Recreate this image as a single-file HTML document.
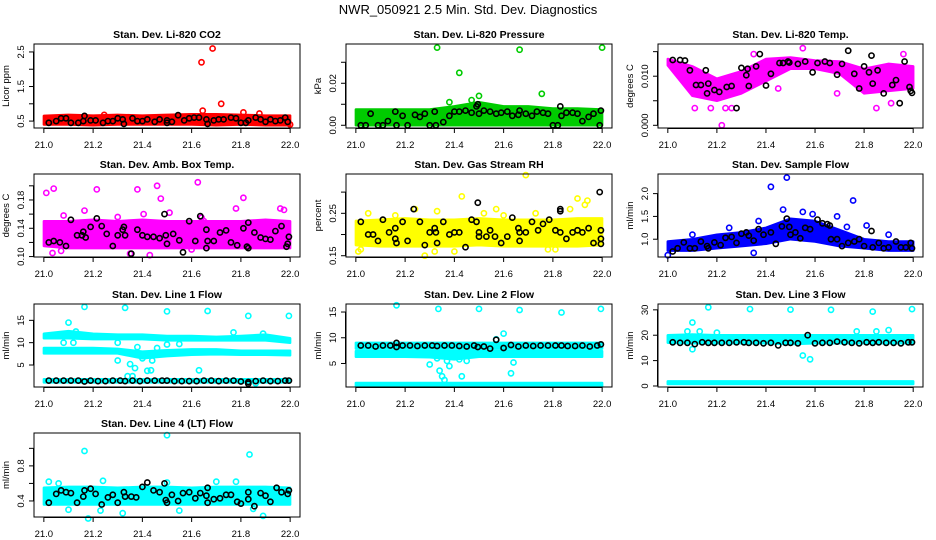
<!DOCTYPE html>
<html><head><meta charset="utf-8"><title>NWR_050921 Diagnostics</title>
<style>
html,body{margin:0;padding:0;background:#fff;}
svg{display:block;font-family:"Liberation Sans",sans-serif;}
</style></head>
<body>
<svg id="chart" width="936" height="540" viewBox="0 0 936 540">
<text x="468" y="14" text-anchor="middle" font-size="13">NWR_050921  2.5 Min. Std. Dev. Diagnostics</text>
</svg>
<script>
// ---------- shared x categories ----------
const xGrid = [21.0,21.1,21.2,21.3,21.4,21.5,21.6,21.7,21.8,21.9,22.0];
const xTicks = [21.0,21.2,21.4,21.6,21.8,22.0];
const xTickLabels = ["21.0","21.2","21.4","21.6","21.8","22.0"];

// ---------- P1 CO2 ----------
const p1Lo = [0.4,0.4,0.38,0.4,0.4,0.4,0.4,0.38,0.4,0.38,0.38];
const p1Hi = [0.65,0.68,0.66,0.68,0.66,0.68,0.7,0.7,0.68,0.66,0.66];
const p1Out = [[21.64,2.2],[21.685,2.6],[21.72,1.0],[21.645,0.8],[21.81,0.75],[21.875,0.72],[21.245,0.68],[22.0,0.4]];
const p1Black = [[21.02,0.45],[21.05,0.5],[21.07,0.58],[21.09,0.58],[21.11,0.45],[21.14,0.45],[21.16,0.5],[21.165,0.65],[21.19,0.52],[21.21,0.52],[21.24,0.45],[21.26,0.5],[21.28,0.5],[21.3,0.58],[21.32,0.55],[21.325,0.42],[21.36,0.58],[21.38,0.5],[21.4,0.5],[21.42,0.55],[21.45,0.48],[21.47,0.55],[21.5,0.52],[21.5,0.45],[21.52,0.48],[21.545,0.67],[21.57,0.52],[21.59,0.58],[21.61,0.6],[21.63,0.6],[21.66,0.55],[21.665,0.42],[21.69,0.52],[21.71,0.55],[21.73,0.55],[21.76,0.6],[21.78,0.58],[21.8,0.45],[21.82,0.45],[21.83,0.52],[21.86,0.6],[21.88,0.55],[21.9,0.48],[21.92,0.55],[21.94,0.5],[21.96,0.52],[21.98,0.6],[21.99,0.48]];
const p1YTicks = [0.5,1.0,1.5,2.0,2.5];
const p1YLabels = ["0.5","","1.5","","2.5"];

// ---------- P2 Pressure ----------
const p2Lo = [0,0,0,0,0,0,0,0,0,0,0];
const p2Hi = [0.0075,0.0075,0.0075,0.0075,0.009,0.011,0.009,0.009,0.008,0.008,0.0075];
const p2Out = [[21.33,0.037],[21.42,0.025],[21.665,0.036],[21.755,0.015],[21.5,0.014],[22.0,0.037],[21.38,0.011],[21.47,0.012]];
const p2Black = [[21.02,0],[21.04,0],[21.06,0.0055],[21.09,0],[21.11,0],[21.13,0.002],[21.16,0.0065],[21.165,0],[21.19,0.0045],[21.21,0],[21.24,0.005],[21.26,0.004],[21.28,0.0055],[21.3,0],[21.32,0.0065],[21.325,0],[21.355,0.0015],[21.38,0.0045],[21.4,0.0065],[21.42,0.0065],[21.445,0.007],[21.47,0.006],[21.49,0.009],[21.495,0.01],[21.5,0.0055],[21.52,0.007],[21.545,0.0065],[21.57,0.0055],[21.59,0.006],[21.615,0.0065],[21.635,0.0045],[21.66,0.005],[21.665,0.007],[21.69,0.0055],[21.715,0.0045],[21.735,0.0065],[21.76,0.006],[21.78,0.0055],[21.8,0],[21.82,0],[21.83,0.009],[21.835,0.0045],[21.855,0.006],[21.88,0.006],[21.9,0.0055],[21.92,0.002],[21.945,0.004],[21.965,0.0055],[21.99,0],[21.995,0.007]];
const p2YTicks = [0,0.01,0.02,0.03];
const p2YLabels = ["0.00","","0.02",""];

// ---------- P3 Li-820 Temp ----------
const p3Lo = [0.0122,0.006,0.005,0.0065,0.009,0.0115,0.0115,0.0105,0.0065,0.007,0.0075];
const p3Hi = [0.0135,0.012,0.0095,0.011,0.0135,0.0138,0.0132,0.013,0.0115,0.0125,0.012];
const p3Out = [[21.11,0.0035],[21.175,0.0035],[21.22,0.0],[21.235,0.0035],[21.26,0.0035],[21.55,0.0157],[21.85,0.0035],[21.45,0.0075],[21.69,0.0065],[21.35,0.0145],[21.96,0.0145],[21.18,0.006],[21.91,0.0045]];
const p3Black = [[21.02,0.0133],[21.05,0.0133],[21.07,0.0132],[21.09,0.0112],[21.115,0.0082],[21.135,0.0082],[21.155,0.0112],[21.16,0.0065],[21.165,0.0085],[21.19,0.0072],[21.21,0.0068],[21.24,0.0078],[21.26,0.008],[21.28,0.0035],[21.3,0.0117],[21.32,0.0102],[21.325,0.0115],[21.33,0.008],[21.36,0.012],[21.375,0.0145],[21.4,0.0081],[21.42,0.0105],[21.455,0.0127],[21.47,0.0127],[21.49,0.013],[21.495,0.0128],[21.53,0.0125],[21.56,0.013],[21.59,0.0108],[21.61,0.0127],[21.64,0.013],[21.66,0.0127],[21.69,0.0103],[21.71,0.0125],[21.735,0.0152],[21.76,0.0105],[21.78,0.0075],[21.8,0.012],[21.82,0.0108],[21.83,0.0142],[21.835,0.0085],[21.855,0.0112],[21.88,0.0065],[21.915,0.0082],[21.93,0.0092],[21.945,0.0045],[21.965,0.013],[21.985,0.0078],[21.99,0.007],[21.995,0.0066]];
const p3YTicks = [0,0.005,0.01,0.015];
const p3YLabels = ["0.000","","0.010",""];

// ---------- P4 Amb Box Temp ----------
const p4Lo = [0.115,0.112,0.112,0.112,0.112,0.112,0.112,0.112,0.112,0.112,0.112];
const p4Hi = [0.15,0.15,0.152,0.15,0.152,0.15,0.15,0.15,0.15,0.152,0.15];
const p4Out = [[21.01,0.19],[21.04,0.196],[21.035,0.105],[21.07,0.108],[21.165,0.165],[21.215,0.195],[21.38,0.195],[21.405,0.16],[21.46,0.2],[21.475,0.182],[21.51,0.162],[21.625,0.205],[21.81,0.183],[21.78,0.168],[21.96,0.168],[21.975,0.166],[21.43,0.102],[21.35,0.104],[21.64,0.155],[21.65,0.15],[21.08,0.158],[21.3,0.156],[21.6,0.11]];
const p4Black = [[21.02,0.12],[21.04,0.122],[21.065,0.12],[21.09,0.115],[21.11,0.152],[21.135,0.13],[21.155,0.13],[21.16,0.135],[21.17,0.127],[21.19,0.142],[21.215,0.154],[21.235,0.143],[21.255,0.132],[21.28,0.115],[21.3,0.13],[21.32,0.138],[21.325,0.142],[21.33,0.13],[21.355,0.104],[21.38,0.138],[21.4,0.13],[21.42,0.128],[21.445,0.128],[21.47,0.126],[21.49,0.16],[21.495,0.13],[21.5,0.118],[21.525,0.132],[21.55,0.123],[21.565,0.106],[21.59,0.15],[21.615,0.122],[21.635,0.157],[21.66,0.138],[21.66,0.112],[21.665,0.122],[21.69,0.122],[21.715,0.134],[21.74,0.137],[21.76,0.12],[21.785,0.116],[21.81,0.14],[21.83,0.148],[21.825,0.114],[21.83,0.112],[21.855,0.134],[21.88,0.127],[21.9,0.125],[21.92,0.124],[21.94,0.136],[21.965,0.143],[21.985,0.114],[21.99,0.118],[21.995,0.128]];
const p4YTicks = [0.10,0.12,0.14,0.16,0.18,0.20];
const p4YLabels = ["0.10","","0.14","","0.18",""];

// ---------- P5 Gas Stream RH ----------
const p5Lo = [0.175,0.172,0.172,0.172,0.172,0.175,0.172,0.172,0.172,0.172,0.175];
const p5Hi = [0.232,0.235,0.238,0.235,0.235,0.238,0.235,0.235,0.235,0.238,0.238];
const p5Out = [[21.01,0.16],[21.24,0.26],[21.28,0.15],[21.43,0.29],[21.69,0.34],[21.9,0.285],[21.94,0.28],[21.93,0.27],[21.87,0.26],[21.52,0.25],[21.57,0.26],[21.4,0.16],[21.78,0.165],[21.81,0.165],[21.02,0.165],[21.05,0.25],[21.16,0.245],[21.33,0.255],[21.6,0.245],[21.73,0.25],[21.32,0.16]];
const p5Black = [[21.02,0.23],[21.05,0.2],[21.07,0.2],[21.09,0.185],[21.11,0.235],[21.135,0.205],[21.16,0.215],[21.16,0.19],[21.165,0.18],[21.19,0.23],[21.21,0.185],[21.235,0.26],[21.26,0.23],[21.28,0.175],[21.3,0.205],[21.32,0.215],[21.325,0.205],[21.33,0.18],[21.355,0.23],[21.38,0.2],[21.4,0.205],[21.42,0.205],[21.445,0.17],[21.47,0.235],[21.49,0.23],[21.495,0.275],[21.5,0.205],[21.5,0.195],[21.53,0.195],[21.545,0.21],[21.565,0.195],[21.59,0.18],[21.615,0.195],[21.635,0.24],[21.66,0.215],[21.665,0.205],[21.665,0.185],[21.69,0.205],[21.715,0.23],[21.74,0.21],[21.76,0.225],[21.785,0.235],[21.81,0.21],[21.83,0.205],[21.83,0.255],[21.83,0.26],[21.855,0.19],[21.88,0.205],[21.9,0.21],[21.92,0.205],[21.945,0.215],[21.965,0.18],[21.99,0.3],[21.995,0.21],[21.995,0.19],[21.995,0.178]];
const p5YTicks = [0.15,0.20,0.25,0.30];
const p5YLabels = ["0.15","","0.25",""];

// ---------- P6 Sample Flow ----------
const p6Lo = [0.75,0.75,0.8,0.85,0.9,1.0,0.95,0.85,0.8,0.75,0.75];
const p6Hi = [0.95,1.0,1.1,1.15,1.25,1.45,1.4,1.2,1.0,0.95,0.95];
const p6Out = [[21.0,0.65],[21.42,2.15],[21.485,2.35],[21.755,1.85],[21.37,1.4],[21.47,1.65],[21.69,1.5],[21.9,1.1],[21.81,1.3],[21.35,0.7],[21.1,1.1],[21.25,1.25],[21.55,1.6],[21.59,1.55],[21.73,1.27]];
const p6Black = [[21.02,0.73],[21.04,0.8],[21.065,0.93],[21.09,0.8],[21.11,0.8],[21.135,0.95],[21.16,0.85],[21.165,0.8],[21.19,0.93],[21.215,0.87],[21.235,1.03],[21.26,1.05],[21.28,0.92],[21.3,1.12],[21.32,1.15],[21.33,1.08],[21.35,0.97],[21.37,1.22],[21.39,1.1],[21.42,1.15],[21.44,0.9],[21.465,1.28],[21.485,1.45],[21.495,1.27],[21.5,1.1],[21.52,1.15],[21.54,1.02],[21.56,1.25],[21.58,1.22],[21.61,1.43],[21.63,1.35],[21.65,1.33],[21.66,1.3],[21.665,1.0],[21.69,1.0],[21.71,0.85],[21.735,0.92],[21.76,0.95],[21.78,1.0],[21.8,0.85],[21.83,1.18],[21.835,0.82],[21.86,0.92],[21.88,0.8],[21.9,0.82],[21.93,0.95],[21.95,0.82],[21.97,0.82],[21.99,0.92],[21.995,0.8]];
const p6YTicks = [1.0,1.5,2.0];
const p6YLabels = ["1.0","1.5","2.0"];

// ---------- P7 Line 1 Flow ----------
const p7UpLo = [11,11,10.8,10.8,10.8,10.5,10.5,10.5,10.5,10.5,10];
const p7UpHi = [12,12.6,12,11.8,11.8,11.5,11.5,11.3,11.5,11.8,11];
const p7MidLo = [7.6,7.6,7.6,7.6,6.5,7,7.3,7.4,7.3,7.3,7.2];
const p7MidHi = [8.8,8.8,8.8,8.6,8,8.3,8.5,8.5,8.2,8.2,8.2];
const p7LowLo = [1.1,1.1,1.1,1.1,1.1,1.1,1.1,1.1,1.1,1.1,1.1];
const p7LowHi = [1.8,1.8,1.8,1.8,1.8,1.8,1.8,1.8,1.8,1.8,1.8];
const p7Out = [[21.165,18],[21.33,17.8],[21.5,17],[21.665,17.1],[21.83,16],[21.995,16],[21.1,14.5],[21.13,12.5],[21.3,6],[21.35,5.2],[21.37,4.3],[21.4,6.5],[21.42,3.7],[21.435,3.8],[21.34,2.5],[21.36,2.5],[21.63,3.8],[21.38,9],[21.08,10],[21.12,10],[21.3,10],[21.5,9.6],[21.55,9.7],[21.77,12.3],[21.89,12],[21.44,6],[21.46,8.8],[21.86,0.9]];
const p7Black = [[21.02,1.5],[21.05,1.5],[21.08,1.5],[21.11,1.5],[21.14,1.5],[21.165,1.3],[21.19,1.5],[21.22,1.4],[21.25,1.4],[21.28,1.5],[21.31,1.5],[21.33,1.4],[21.36,1.5],[21.39,1.4],[21.42,1.5],[21.45,1.5],[21.48,1.5],[21.5,1.5],[21.53,1.4],[21.56,1.4],[21.59,1.4],[21.62,1.4],[21.65,1.5],[21.68,1.5],[21.71,1.4],[21.74,1.5],[21.77,1.5],[21.8,1.3],[21.83,1.2],[21.83,0.8],[21.86,1.4],[21.89,1.5],[21.92,1.4],[21.95,1.4],[21.98,1.5],[21.995,1.5]];
const p7YTicks = [5,10,15];
const p7YLabels = ["5","10","15"];

// ---------- P8 Line 2 Flow ----------
const p8UpLo = [7.9,7.9,7.9,7.9,7.9,7.9,7.9,7.9,7.9,7.9,7.9];
const p8UpHi = [9.0,9.0,9.0,9.0,9.0,9.0,9.0,9.0,9.0,9.0,9.0];
const p8MidLo = [6.3,6.3,6.3,6.2,5.8,6.3,6.3,6.3,6.3,6.3,6.3];
const p8MidHi = [7.4,7.4,7.4,7.4,7.4,7.4,7.4,7.4,7.4,7.4,7.4];
const p8LowLo = [0.6,0.6,0.6,0.6,0.6,0.6,0.6,0.6,0.6,0.6,0.6];
const p8LowHi = [1.2,1.2,1.2,1.2,1.2,1.2,1.2,1.2,1.2,1.2,1.2];
const p8Out = [[21.165,16.3],[21.335,15.6],[21.5,15.6],[21.665,15.4],[21.835,14.9],[21.995,15.6],[21.3,4.8],[21.34,3.6],[21.35,2.5],[21.36,1.8],[21.38,4.5],[21.42,5.8],[21.43,2.5],[21.6,10.8],[21.57,9.7],[21.63,3.1],[21.64,5.2],[21.4,6.5],[21.45,5.5],[21.33,6],[21.37,5.5]];
const p8Black = [[21.02,8.5],[21.05,8.5],[21.08,8.3],[21.11,8.5],[21.14,8.5],[21.165,9],[21.165,8.2],[21.19,8.5],[21.22,8.5],[21.25,8.4],[21.28,8.5],[21.31,8.5],[21.33,8.4],[21.36,8.5],[21.39,8.5],[21.42,8.4],[21.45,8.3],[21.48,8.5],[21.495,8.2],[21.52,8.3],[21.545,7.9],[21.57,9.6],[21.6,8],[21.63,8.6],[21.66,8.3],[21.69,8.5],[21.72,8.4],[21.75,8.5],[21.78,8.5],[21.81,8.5],[21.835,8.5],[21.86,8.4],[21.89,8.4],[21.92,8.5],[21.95,8.3],[21.98,8.5],[21.995,8.7]];
const p8YTicks = [5,10,15];
const p8YLabels = ["5","10","15"];

// ---------- P9 Line 3 Flow ----------
const p9UpLo = [17,16.8,16.8,16.8,16.8,16.5,16.8,16.8,16.8,16.8,16.8];
const p9UpHi = [20,20.3,20,20,20,20,20,20,20,20,20];
const p9LowLo = [0.8,0.8,0.8,0.8,0.8,0.8,0.8,0.8,0.8,0.8,0.8];
const p9LowHi = [1.8,1.8,1.8,1.8,1.8,1.8,1.8,1.8,1.8,1.8,1.8];
const p9Out = [[21.165,31],[21.335,30.3],[21.5,30.1],[21.665,30],[21.835,29.3],[21.995,30.3],[21.1,25],[21.08,21.5],[21.55,12],[21.58,10.5],[21.77,21.5],[21.9,22],[21.1,14.5],[21.13,21.5],[21.2,21],[21.85,21.5]];
const p9Black = [[21.02,17.2],[21.05,17],[21.08,17],[21.11,16.5],[21.14,17.2],[21.165,17],[21.19,17],[21.22,17],[21.25,17],[21.28,17.2],[21.31,17.2],[21.33,17],[21.36,17],[21.39,16.8],[21.42,17],[21.45,16],[21.48,17],[21.5,17],[21.53,16.8],[21.57,20],[21.6,16.8],[21.63,17],[21.66,17],[21.69,17.5],[21.72,17.2],[21.75,17],[21.78,16.8],[21.81,17.2],[21.835,17],[21.86,17.2],[21.89,17],[21.92,17],[21.95,16.8],[21.98,17.2],[21.995,17.2]];
const p9YTicks = [0,10,20,30];
const p9YLabels = ["0","10","20","30"];

// ---------- P10 Line 4 Flow ----------
const p10Lo = [0.36,0.36,0.36,0.36,0.36,0.36,0.36,0.36,0.36,0.36,0.36];
const p10Hi = [0.55,0.56,0.56,0.55,0.56,0.56,0.55,0.56,0.56,0.56,0.55];
const p10Out = [[21.165,0.97],[21.5,1.15],[21.835,0.93],[21.18,0.2],[21.89,0.23],[21.32,0.26],[21.24,0.63],[21.02,0.62],[21.78,0.62],[21.7,0.62],[21.06,0.6],[21.5,0.61],[21.1,0.3],[21.23,0.29],[21.55,0.29],[21.85,0.31]];
const p10Black = [[21.02,0.38],[21.05,0.48],[21.07,0.52],[21.09,0.5],[21.11,0.49],[21.135,0.38],[21.16,0.45],[21.165,0.52],[21.19,0.54],[21.21,0.48],[21.235,0.36],[21.26,0.44],[21.28,0.47],[21.3,0.38],[21.325,0.5],[21.33,0.45],[21.355,0.45],[21.375,0.44],[21.4,0.56],[21.42,0.61],[21.445,0.52],[21.47,0.5],[21.49,0.6],[21.495,0.41],[21.5,0.38],[21.52,0.47],[21.545,0.4],[21.565,0.49],[21.59,0.5],[21.615,0.43],[21.635,0.49],[21.66,0.46],[21.665,0.55],[21.665,0.38],[21.69,0.42],[21.715,0.43],[21.74,0.47],[21.76,0.47],[21.785,0.39],[21.8,0.37],[21.83,0.5],[21.83,0.42],[21.855,0.34],[21.88,0.49],[21.9,0.46],[21.92,0.39],[21.945,0.55],[21.965,0.5],[21.99,0.48],[21.995,0.52]];
const p10YTicks = [0.4,0.6,0.8,1.0];
const p10YLabels = ["0.4","","0.8",""];

// ---------- layout (not data) ----------
const NS = "http://www.w3.org/2000/svg";
const svg = document.getElementById("chart");
const panels = [
 {name:"co2",title:"Stan. Dev. Li-820 CO2",yl:"Licor ppm",col:"#ff0000",x0:34,y0:44,x1:300,y1:128,ymin:0.3,ymax:2.73,bands:[[p1Lo,p1Hi]],out:p1Out,blk:p1Black,yt:p1YTicks,ytl:p1YLabels},
 {name:"pressure",title:"Stan. Dev. Li-820 Pressure",yl:"kPa",col:"#00cc00",x0:346,y0:44,x1:612,y1:128,ymin:-0.0013,ymax:0.0387,bands:[[p2Lo,p2Hi]],out:p2Out,blk:p2Black,yt:p2YTicks,ytl:p2YLabels},
 {name:"li820-temp",title:"Stan. Dev. Li-820 Temp.",yl:"degrees C",col:"#ff00ff",x0:658,y0:44,x1:923,y1:128,ymin:-0.00055,ymax:0.01656,bands:[[p3Lo,p3Hi]],out:p3Out,blk:p3Black,yt:p3YTicks,ytl:p3YLabels},
 {name:"amb-box-temp",title:"Stan. Dev. Amb. Box Temp.",yl:"degrees C",col:"#ff00ff",x0:34,y0:174,x1:300,y1:257,ymin:0.0994,ymax:0.2167,bands:[[p4Lo,p4Hi]],out:p4Out,blk:p4Black,yt:p4YTicks,ytl:p4YLabels},
 {name:"gas-stream-rh",title:"Stan. Dev. Gas Stream RH",yl:"percent",col:"#ffff00",x0:346,y0:174,x1:612,y1:257,ymin:0.147,ymax:0.3427,bands:[[p5Lo,p5Hi]],out:p5Out,blk:p5Black,yt:p5YTicks,ytl:p5YLabels},
 {name:"sample-flow",title:"Stan. Dev. Sample Flow",yl:"ml/min",col:"#0000ff",x0:658,y0:174,x1:923,y1:257,ymin:0.61,ymax:2.43,bands:[[p6Lo,p6Hi]],out:p6Out,blk:p6Black,yt:p6YTicks,ytl:p6YLabels},
 {name:"line1-flow",title:"Stan. Dev. Line 1 Flow",yl:"ml/min",col:"#00ffff",x0:34,y0:304,x1:300,y1:387,ymin:0.07,ymax:18.66,bands:[[p7UpLo,p7UpHi],[p7MidLo,p7MidHi],[p7LowLo,p7LowHi]],out:p7Out,blk:p7Black,yt:p7YTicks,ytl:p7YLabels},
 {name:"line2-flow",title:"Stan. Dev. Line 2 Flow",yl:"ml/min",col:"#00ffff",x0:346,y0:304,x1:612,y1:387,ymin:0.43,ymax:16.56,bands:[[p8UpLo,p8UpHi],[p8MidLo,p8MidHi],[p8LowLo,p8LowHi]],out:p8Out,blk:p8Black,yt:p8YTicks,ytl:p8YLabels},
 {name:"line3-flow",title:"Stan. Dev. Line 3 Flow",yl:"ml/min",col:"#00ffff",x0:658,y0:304,x1:923,y1:387,ymin:-0.4,ymax:32.3,bands:[[p9UpLo,p9UpHi],[p9LowLo,p9LowHi]],out:p9Out,blk:p9Black,yt:p9YTicks,ytl:p9YLabels},
 {name:"line4-flow",title:"Stan. Dev. Line 4 (LT) Flow",yl:"ml/min",col:"#00ffff",x0:34,y0:433,x1:300,y1:517,ymin:0.217,ymax:1.175,bands:[[p10Lo,p10Hi]],out:p10Out,blk:p10Black,yt:p10YTicks,ytl:p10YLabels}
];

function mk(tag, attrs, parent){
  const el = document.createElementNS(NS, tag);
  for (const k in attrs) el.setAttribute(k, attrs[k]);
  (parent||svg).appendChild(el);
  return el;
}

panels.forEach(p => {
  const g = mk("g", {});
  
  
  const w = p.x1 - p.x0, h = p.y1 - p.y0;
  const sx = v => p.x0 + (v - 20.96) / 1.08 * w;
  const sy = v => p.y1 - (v - p.ymin) / (p.ymax - p.ymin) * h;

  p.bands.forEach((b, bi) => {
    const lo = b[0], hi = b[1];
    let pts = xGrid.map((x,i) => sx(x).toFixed(1) + "," + sy(hi[i]).toFixed(1));
    pts = pts.concat(xGrid.slice().reverse().map((x,j) => { const i = xGrid.length-1-j; return sx(x).toFixed(1) + "," + sy(lo[i]).toFixed(1); }));
    const poly = mk("polygon", {points: pts.join(" "), fill: p.col, stroke: p.col, "stroke-width": 2.5, "stroke-linejoin": "round"}, g);
    
    
  });
  p.out.forEach(d => {
    const c = mk("circle", {cx: sx(d[0]).toFixed(1), cy: sy(d[1]).toFixed(1), r: 2.6, fill: "none", stroke: p.col, "stroke-width": 1.6}, g);
    
    
  });
  p.blk.forEach(d => {
    const c = mk("circle", {cx: sx(d[0]).toFixed(1), cy: sy(d[1]).toFixed(1), r: 2.6, fill: "none", stroke: "#000", "stroke-width": 1.6}, g);
    
    
  });
  const box = mk("rect", {x: p.x0, y: p.y0, width: w, height: h, fill: "none", stroke: "#000", "stroke-width": 1}, g);
  
  
  const t = mk("text", {x: (p.x0+p.x1)/2, y: p.y0 - 6, "text-anchor": "middle", "font-size": 10.5, "font-weight": "bold"}, g);
  t.textContent = p.title;
  
  
  mk("line", {x1: sx(xTicks[0]), x2: sx(xTicks[xTicks.length-1]), y1: p.y1 + 0.5, y2: p.y1 + 0.5, stroke: "#000"}, g);
  xTicks.forEach((v,i) => {
    mk("line", {x1: sx(v), x2: sx(v), y1: p.y1, y2: p.y1 + 5, stroke: "#000"}, g);
    const lt = mk("text", {x: sx(v), y: p.y1 + 20, "text-anchor": "middle", "font-size": 9.5}, g);
    lt.textContent = xTickLabels[i];
    
    
  });
  p.yt.forEach((v,i) => {
    const yy = sy(v);
    mk("line", {x1: p.x0 - 5, x2: p.x0, y1: yy, y2: yy, stroke: "#000"}, g);
    if (p.ytl[i]) {
      const lt = mk("text", {x: p.x0 - 10, y: yy, "text-anchor": "middle", "font-size": 9.5, transform: "rotate(-90 " + (p.x0 - 10) + " " + yy + ")"}, g);
      lt.textContent = p.ytl[i];
      
      
    }
  });
  mk("line", {x1: p.x0 - 0.5, x2: p.x0 - 0.5, y1: sy(p.yt[0]), y2: sy(p.yt[p.yt.length-1]), stroke: "#000"}, g);
  const cy = (p.y0 + p.y1) / 2, tx = p.x0 - 25;
  const yl = mk("text", {x: tx, y: cy, "text-anchor": "middle", "font-size": 9.5, transform: "rotate(-90 " + tx + " " + cy + ")"}, g);
  yl.textContent = p.yl;
  
  
});
</script>
</body></html>
